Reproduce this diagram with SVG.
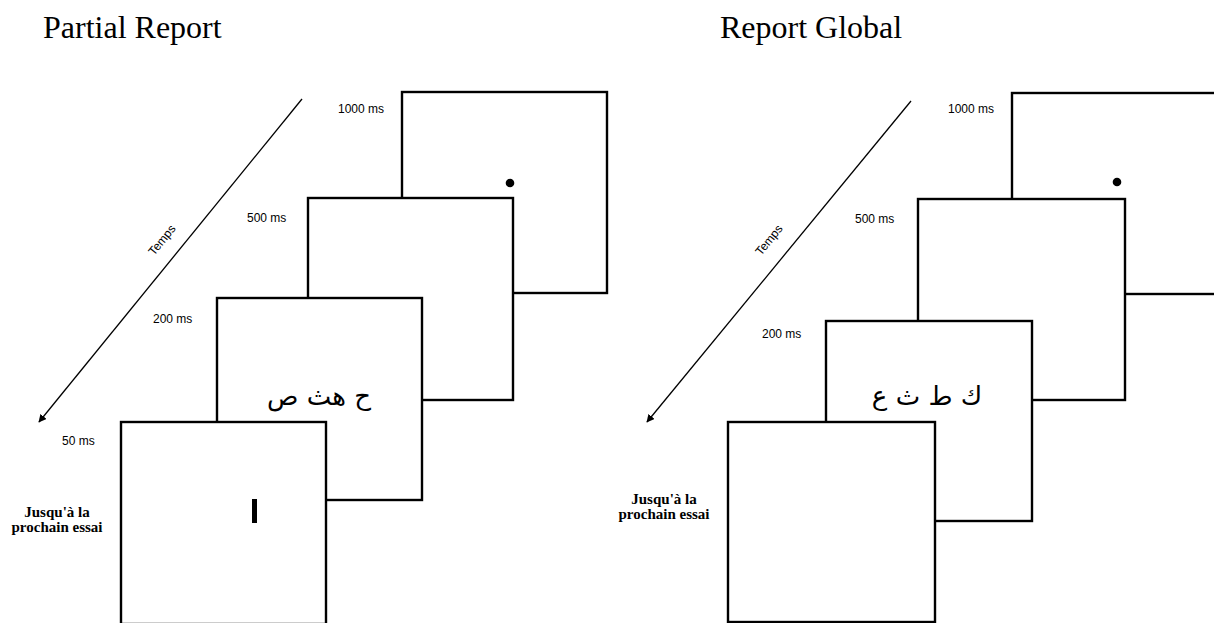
<svg xmlns="http://www.w3.org/2000/svg" width="1214" height="623" viewBox="0 0 1214 623">
<defs>
<style>
.box{fill:#fff;stroke:#000;stroke-width:2.4}
.ms{font-family:"Liberation Sans",Arial,sans-serif;font-size:12px;fill:#000}
.title{font-family:"Liberation Serif","Times New Roman",serif;font-size:32px;fill:#000}
.note{font-family:"Liberation Serif","Times New Roman",serif;font-size:15px;font-weight:bold;fill:#000;text-anchor:middle}
.ar{font-family:"DejaVu Sans",sans-serif;font-size:26px;fill:#000;text-anchor:middle}
.axis{stroke:#000;stroke-width:1.3;fill:none}
</style>
<marker id="ah" viewBox="0 0 10 10" refX="9" refY="5" markerWidth="8" markerHeight="8" orient="auto" markerUnits="userSpaceOnUse">
<path d="M0,0 L10,5 L0,10 z" fill="#000"/>
</marker>
</defs>
<rect width="1214" height="623" fill="#fff"/>

<text class="title" x="43" y="38">Partial Report</text>
<text class="title" x="720" y="38">Report Global</text>

<g id="connectors">
<line class="axis" x1="302" y1="99" x2="39" y2="422" marker-end="url(#ah)"/>
<line class="axis" x1="911" y1="101" x2="647" y2="422" marker-end="url(#ah)"/>
</g>

<g id="left-panel">
<g id="l-frame1000">
<rect class="box" x="402" y="92" width="205" height="201"/>
<circle cx="510" cy="183" r="4.3" fill="#000"/>
<text class="ms" x="338" y="113">1000 ms</text>
</g>
<g id="l-frame500">
<rect class="box" x="308" y="198" width="205" height="202"/>
<text class="ms" x="247" y="222">500 ms</text>
</g>
<g id="l-frame200">
<rect class="box" x="217" y="298" width="205" height="202"/>
<text class="ar" x="319" y="405">ح هث ص</text>
<text class="ms" x="153" y="323">200 ms</text>
</g>
<g id="l-frame50">
<rect class="box" x="121" y="422" width="205" height="202"/>
<rect x="252" y="499" width="5" height="24" fill="#000"/>
<text class="ms" x="62" y="445">50 ms</text>
</g>
<g id="l-time">
<text class="ms" transform="translate(162,240) rotate(-50.8)" text-anchor="middle" y="4">Temps</text>
</g>
<g id="l-next">
<text class="note" x="57" y="517">Jusqu'à la</text>
<text class="note" x="57" y="532">prochain essai</text>
</g>
</g>

<g id="right-panel">
<g id="r-frame1000">
<rect class="box" x="1012" y="93" width="205" height="201"/>
<circle cx="1117" cy="182" r="4.3" fill="#000"/>
<text class="ms" x="948" y="113">1000 ms</text>
</g>
<g id="r-frame500">
<rect class="box" x="918" y="199" width="207" height="201"/>
<text class="ms" x="855" y="223">500 ms</text>
</g>
<g id="r-frame200">
<rect class="box" x="826" y="321" width="206" height="200"/>
<text class="ar" x="927" y="405">ك ط ث ع</text>
<text class="ms" x="762" y="338">200 ms</text>
</g>
<g id="r-frame50">
<rect class="box" x="728" y="422" width="207" height="200"/>
</g>
<g id="r-time">
<text class="ms" transform="translate(769,240) rotate(-50.8)" text-anchor="middle" y="4">Temps</text>
</g>
<g id="r-next">
<text class="note" x="664" y="504">Jusqu'à la</text>
<text class="note" x="664" y="519">prochain essai</text>
</g>
</g>
</svg>
